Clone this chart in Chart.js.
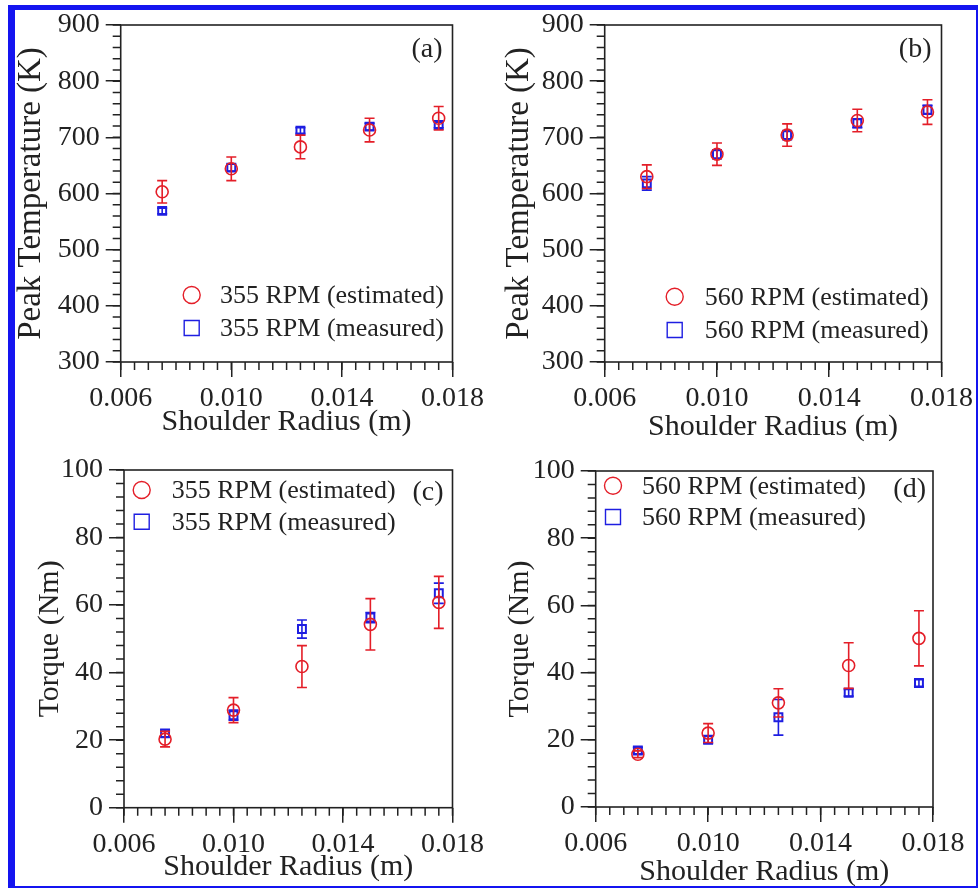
<!DOCTYPE html>
<html><head><meta charset="utf-8">
<script src="https://cdn.jsdelivr.net/npm/chart.js@4.4.1/dist/chart.umd.min.js"></script>
<style>
html,body{margin:0;padding:0;background:#fff;}
#wrap{position:relative;width:978px;height:890px;overflow:hidden;background:#fff;}
#frame{position:absolute;left:8px;top:5px;width:970px;height:883px;box-sizing:border-box;border-style:solid;border-color:#1414f0;border-width:5px 2px 2px 7px;}
canvas{position:absolute;}
</style></head><body>
<div id="wrap"><div id="frame"></div>
<canvas id="ca" width="489" height="445" style="left:0px;top:0px"></canvas>
<canvas id="cb" width="489" height="445" style="left:489px;top:0px"></canvas>
<canvas id="cc" width="489" height="445" style="left:0px;top:445px"></canvas>
<canvas id="cd" width="489" height="445" style="left:489px;top:445px"></canvas>
</div>
<script>
// ---------- data ----------
const radius = [0.0075, 0.010, 0.0125, 0.015, 0.0175];
const xTickValues = [0.006, 0.010, 0.014, 0.018];
const tempTickValues = [300, 400, 500, 600, 700, 800, 900];
const torqueTickValues = [0, 20, 40, 60, 80, 100];

const tempEst355 = [603, 644, 683, 713, 734];
const tempEst355Err = [20, 21, 21, 21, 21];
const tempMeas355 = [569, 646, 712, 719, 722];
const tempMeas355Err = [5, 6, 5, 6, 5];

const tempEst560 = [630, 670, 704, 730, 745];
const tempEst560Err = [21, 20, 20, 20, 22];
const tempMeas560 = [618, 670, 704, 725, 749];
const tempMeas560Err = [12, 8, 8, 8, 8];

const torqueEst355 = [20.3, 28.9, 41.8, 54.3, 60.8];
const torqueEst355Err = [2.3, 3.7, 6.2, 7.6, 7.7];
const torqueMeas355 = [22.0, 27.4, 52.9, 56.3, 63.5];
const torqueMeas355Err = [1.0, 1.5, 2.7, 1.5, 3.0];

const torqueEst560 = [15.7, 22.0, 31.0, 42.1, 50.2];
const torqueEst560Err = [1.0, 2.8, 4.2, 6.8, 8.2];
const torqueMeas560 = [16.8, 20.0, 26.7, 34.0, 36.9];
const torqueMeas560Err = [1.0, 1.0, 5.3, 1.0, 1.0];

// ---------- style ----------
const FONT = "'Liberation Serif', 'DejaVu Serif', serif";
const RED = 'rgb(228,30,40)';
const BLUE = 'rgb(30,30,225)';
const INK = '#222';

const panelPlugin = {
  id: 'panel',
  afterDatasetDraw(chart, args) {
    const ds = chart.data.datasets[args.index];
    if (!ds.errors) return;
    const ctx = chart.ctx, ys = chart.scales.y;
    ctx.save();
    ctx.strokeStyle = ds.borderColor;
    ctx.lineWidth = 1.6;
    args.meta.data.forEach((el, i) => {
      const v = ds.data[i].y, e = ds.errors[i];
      const x = el.x;
      const yt = ys.getPixelForValue(v + e), yb = ys.getPixelForValue(v - e);
      ctx.beginPath();
      ctx.moveTo(x, yt); ctx.lineTo(x, yb);
      ctx.moveTo(x - 5, yt); ctx.lineTo(x + 5, yt);
      ctx.moveTo(x - 5, yb); ctx.lineTo(x + 5, yb);
      ctx.stroke();
    });
    ctx.restore();
  },
  afterDraw(chart, args, o) {
    const ctx = chart.ctx, a = chart.chartArea;
    ctx.save();
    // frame box
    ctx.strokeStyle = INK; ctx.lineWidth = 1.6;
    ctx.strokeRect(a.left, a.top, a.right - a.left, a.bottom - a.top);
    // minor ticks
    const xs = chart.scales.x, ys = chart.scales.y;
    ctx.lineWidth = 1.5;
    ctx.beginPath();
    for (let v = xs.min; v <= xs.max + 1e-9; v += o.xMinor) {
      const px = xs.getPixelForValue(v);
      ctx.moveTo(px, a.bottom); ctx.lineTo(px, a.bottom + 8);
    }
    for (let v = ys.min; v <= ys.max + 1e-9; v += o.yMinor) {
      const py = ys.getPixelForValue(v);
      ctx.moveTo(a.left, py); ctx.lineTo(a.left - 8, py);
    }
    ctx.stroke();
    // legend
    ctx.font = '26px ' + FONT;
    ctx.textBaseline = 'middle'; ctx.textAlign = 'left';
    chart.data.datasets.forEach((ds, i) => {
      const y = o.legend.y[i], x = o.legend.x;
      ctx.strokeStyle = ds.borderColor; ctx.lineWidth = 1.4;
      ctx.beginPath();
      if (ds.pointStyle === 'circle') ctx.arc(x, y, 8.5, 0, Math.PI * 2);
      else ctx.rect(x - 7.5, y - 7.5, 15, 15);
      ctx.stroke();
      ctx.fillStyle = INK;
      ctx.fillText(ds.label, o.legend.textX, y + 1);
    });
    // panel label
    ctx.font = '28px ' + FONT;
    ctx.textAlign = 'right';
    ctx.fillText(o.tag, a.right - o.tagDx, a.top + o.tagDy);
    ctx.restore();
  }
};

function makeChart(id, p) {
  const mk = (vals) => radius.map((x, i) => ({x: x, y: vals[i]}));
  return new Chart(document.getElementById(id), {
    type: 'scatter',
    data: {
      datasets: [
        {label: p.labels[0], data: mk(p.est), errors: p.estErr, pointStyle: 'circle',
         pointRadius: 6, borderColor: RED, backgroundColor: 'rgba(0,0,0,0)', borderWidth: 1.6, showLine: false},
        {label: p.labels[1], data: mk(p.meas), errors: p.measErr, pointStyle: 'rect',
         pointRadius: 5.6, borderColor: BLUE, backgroundColor: 'rgba(0,0,0,0)', borderWidth: 2, showLine: false}
      ]
    },
    options: {
      responsive: false, animation: false, devicePixelRatio: 1,
      layout: {padding: {left: 0, top: p.top, right: p.right, bottom: 0}},
      plugins: {
        legend: {display: false}, tooltip: {enabled: false},
        panel: {xMinor: 0.0005, yMinor: p.yMinor, legend: p.legend, tag: p.tag, tagDx: p.tagDx, tagDy: p.tagDy}
      },
      scales: {
        x: {
          type: 'linear', min: 0.006, max: 0.018,
          afterBuildTicks: s => { s.ticks = xTickValues.map(v => ({value: v})); },
          afterFit: s => { s.height = p.xH; },
          ticks: {callback: v => Number(v).toFixed(3), font: {family: FONT, size: 28}, color: INK, padding: 5, maxRotation: 0, autoSkip: false},
          grid: {drawOnChartArea: false, drawTicks: true, tickLength: 15, color: INK, lineWidth: 1.5},
          border: {display: false},
          title: {display: true, text: 'Shoulder Radius (m)', color: INK,
                  font: {family: FONT, size: 30, lineHeight: 1.2}, padding: {top: 0, bottom: p.xTitlePad}}
        },
        y: {
          type: 'linear', min: p.yTicks[0], max: p.yTicks[p.yTicks.length - 1],
          afterBuildTicks: s => { s.ticks = p.yTicks.map(v => ({value: v})); },
          afterFit: s => { s.width = p.yW; },
          ticks: {font: {family: FONT, size: 28}, color: INK, padding: 6, autoSkip: false},
          grid: {drawOnChartArea: false, drawTicks: true, tickLength: 15, color: INK, lineWidth: 1.5},
          border: {display: false},
          title: {display: true, text: p.yTitle, color: INK,
                  font: {family: FONT, size: p.yTitleSize, lineHeight: 1.2}, padding: {top: p.yTitlePad, bottom: 0}}
        }
      }
    },
    plugins: [panelPlugin]
  });
}

makeChart('ca', {
  labels: ['355 RPM (estimated)', '355 RPM (measured)'],
  est: tempEst355, estErr: tempEst355Err, meas: tempMeas355, measErr: tempMeas355Err,
  yTicks: tempTickValues, yMinor: 20, yTitle: 'Peak Temperature (K)', yTitleSize: 33, yTitlePad: 12,
  top: 25, right: 31.7, yW: 120.7, xH: 83, xTitlePad: 5,
  legend: {x: 191.7, y: [295, 328], textX: 220}, tag: '(a)', tagDx: 10, tagDy: 25
});
makeChart('cb', {
  labels: ['560 RPM (estimated)', '560 RPM (measured)'],
  est: tempEst560, estErr: tempEst560Err, meas: tempMeas560, measErr: tempMeas560Err,
  yTicks: tempTickValues, yMinor: 20, yTitle: 'Peak Temperature (K)', yTitleSize: 33, yTitlePad: 11,
  top: 25, right: 35, yW: 115.7, xH: 83, xTitlePad: 0,
  legend: {x: 185.7, y: [296.7, 330], textX: 215.7}, tag: '(b)', tagDx: 10, tagDy: 25
});
makeChart('cc', {
  labels: ['355 RPM (estimated)', '355 RPM (measured)'],
  est: torqueEst355, estErr: torqueEst355Err, meas: torqueMeas355, measErr: torqueMeas355Err,
  yTicks: torqueTickValues, yMinor: 4, yTitle: 'Torque (Nm)', yTitleSize: 30, yTitlePad: 32,
  top: 25, right: 27.3, yW: 124, xH: 82.3, xTitlePad: 5,
  legend: {x: 141.7, y: [45, 76.7], textX: 171.7}, tag: '(c)', tagDx: 9, tagDy: 23
});
makeChart('cd', {
  labels: ['560 RPM (estimated)', '560 RPM (measured)'],
  est: torqueEst560, estErr: torqueEst560Err, meas: torqueMeas560, measErr: torqueMeas560Err,
  yTicks: torqueTickValues, yMinor: 4, yTitle: 'Torque (Nm)', yTitleSize: 30, yTitlePad: 12.7,
  top: 26, right: 45, yW: 106.7, xH: 83, xTitlePad: 0,
  legend: {x: 124, y: [40.7, 72], textX: 153}, tag: '(d)', tagDx: 7, tagDy: 19
});
</script>
</body></html>
